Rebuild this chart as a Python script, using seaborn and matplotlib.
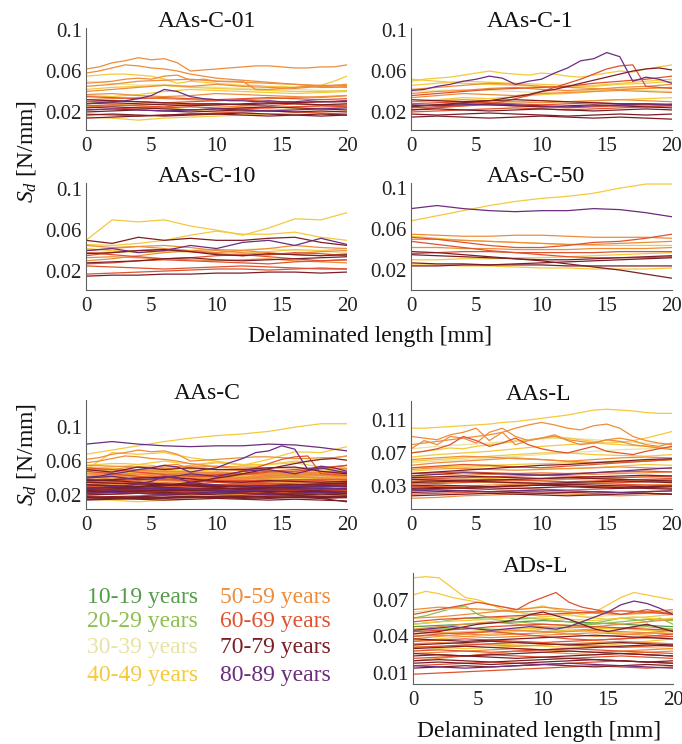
import numpy as np
import pandas as pd
import matplotlib
matplotlib.use("Agg")
import matplotlib.pyplot as plt
import seaborn as sns

sns.set_style("white")
plt.rcParams["font.family"] = ["Liberation Serif", "DejaVu Serif"]
plt.rcParams["mathtext.fontset"] = "custom"
plt.rcParams["mathtext.rm"] = "Liberation Serif"
plt.rcParams["mathtext.it"] = "Liberation Serif:italic"

# ---------------- data (values in 1e-3 N/mm) ----------------
age_groups = ["10-19 years", "20-29 years", "30-39 years", "40-49 years",
              "50-59 years", "60-69 years", "70-79 years", "80-89 years"]
group_colors = ["#559c48", "#8dbf4c", "#e8e3a2", "#f4c93c",
                "#ed8d3b", "#e0522f", "#7c1e26", "#6b2d7d"]
G = dict(zip(["g10", "g20", "g30", "g40", "g50", "g60", "g70", "g80"], age_groups))

x_fine = [float(v) for v in range(0, 21)]          # 1 mm step
x_coarse = [float(v) for v in range(0, 21, 2)]     # 2 mm step

yticks_c = [0.02, 0.06, 0.1]
yticks_l = [0.03, 0.07, 0.11]
yticks_d = [0.01, 0.04, 0.07]
xticks = [0, 5, 10, 15, 20]

c01_fine = [
    ("g50", [62, 64, 68, 70, 73, 71, 72, 68, 60, 61, 62, 63, 64, 65, 65, 64, 63, 63, 64, 64, 66]),
    ("g50", [58, 60, 63, 66, 65, 63, 62, 60, 57, 55, 53, 52, 51, 50, 49, 48, 47, 46, 45, 46, 47]),
    ("g50", [48, 49, 50, 52, 53, 52, 55, 56, 51, 52, 50, 50, 50, 42, 42, 43, 44, 45, 44, 44, 45]),
    ("g80", [28, 29, 30, 31, 33, 36, 42, 40, 35, 33, 32, 31, 31, 30, 31, 30, 30, 31, 30, 30, 31]),
    ("g40", [55, 56, 57, 57, 56, 55, 52, 48, 50, 49, 48, 47, 46, 46, 45, 45, 44, 45, 46, 50, 55]),
]
c01_coarse = [
    ("g50", [45, 47, 50, 51, 52, 50, 49, 48, 47, 46, 46]),
    ("g50", [40, 42, 44, 46, 45, 47, 45, 44, 43, 45, 44]),
    ("g40", [42, 44, 45, 46, 44, 43, 42, 41, 40, 40, 41]),
    ("g40", [36, 35, 37, 40, 42, 41, 40, 39, 38, 39, 40]),
    ("g40", [30, 28, 26, 24, 22, 20, 21, 22, 23, 24, 25]),
    ("g30", [50, 48, 46, 47, 45, 44, 43, 42, 42, 41, 40]),
    ("g50", [37, 38, 36, 35, 36, 38, 37, 36, 35, 34, 36]),
    ("g60", [35, 34, 33, 34, 33, 32, 33, 34, 33, 32, 33]),
    ("g60", [30, 31, 30, 29, 30, 31, 32, 30, 29, 30, 31]),
    ("g60", [26, 27, 26, 25, 27, 28, 27, 26, 28, 27, 26]),
    ("g60", [22, 23, 24, 24, 25, 24, 23, 24, 25, 26, 25]),
    ("g70", [28, 29, 28, 27, 26, 27, 28, 29, 28, 27, 28]),
    ("g70", [24, 25, 24, 23, 22, 23, 24, 25, 24, 23, 22]),
    ("g70", [20, 21, 22, 21, 20, 21, 22, 21, 20, 21, 20]),
    ("g70", [17, 18, 17, 16, 17, 18, 19, 18, 17, 16, 17]),
    ("g70", [14, 15, 16, 17, 18, 18, 17, 16, 17, 18, 17]),
    ("g60", [18, 17, 16, 17, 18, 19, 20, 21, 20, 19, 18]),
    ("g50", [25, 26, 27, 28, 27, 26, 25, 24, 25, 26, 27]),
    ("g40", [15, 14, 12, 14, 15, 16, 17, 18, 19, 20, 21]),
    ("g80", [22, 23, 22, 21, 22, 23, 22, 21, 22, 23, 24]),
    ("g50", [32, 33, 34, 33, 32, 31, 32, 33, 34, 35, 36]),
    ("g70", [32, 31, 30, 29, 28, 28, 27, 28, 29, 30, 30]),
]

c1_fine = [
    ("g80", [41, 42, 45, 47, 50, 52, 55, 53, 47, 50, 52, 58, 63, 70, 72, 78, 74, 50, 54, 52, 48]),
    ("g60", [22, 23, 24, 25, 26, 27, 28, 30, 33, 36, 40, 44, 48, 52, 57, 62, 65, 66, 45, 44, 43]),
    ("g70", [25, 26, 27, 28, 29, 30, 31, 33, 35, 37, 40, 42, 45, 48, 51, 54, 57, 60, 62, 63, 61]),
    ("g40", [50, 52, 53, 54, 56, 58, 60, 58, 57, 56, 58, 57, 55, 54, 56, 58, 60, 59, 62, 64, 66]),
]
c1_coarse = [
    ("g40", [52, 50, 48, 47, 46, 45, 44, 46, 48, 50, 52]),
    ("g40", [46, 48, 50, 49, 48, 47, 46, 45, 47, 48, 50]),
    ("g50", [42, 44, 46, 48, 47, 45, 44, 43, 42, 43, 44]),
    ("g50", [38, 40, 41, 43, 44, 42, 41, 42, 44, 45, 47]),
    ("g50", [34, 36, 38, 37, 36, 38, 39, 40, 41, 40, 39]),
    ("g60", [36, 38, 40, 42, 43, 44, 45, 48, 50, 52, 55]),
    ("g40", [30, 32, 34, 33, 35, 37, 38, 40, 42, 43, 44]),
    ("g30", [40, 41, 42, 41, 40, 39, 40, 41, 42, 41, 40]),
    ("g60", [28, 29, 30, 29, 28, 27, 28, 29, 28, 27, 26]),
    ("g60", [24, 25, 26, 27, 26, 25, 24, 25, 26, 27, 28]),
    ("g70", [26, 27, 28, 27, 26, 25, 26, 27, 26, 25, 24]),
    ("g70", [22, 23, 22, 21, 22, 23, 22, 21, 22, 23, 22]),
    ("g70", [18, 17, 18, 19, 18, 17, 16, 17, 18, 17, 18]),
    ("g70", [15, 16, 15, 14, 15, 16, 15, 14, 15, 14, 13]),
    ("g50", [30, 31, 32, 31, 30, 29, 30, 31, 32, 31, 30]),
    ("g60", [20, 21, 22, 23, 24, 23, 22, 23, 24, 25, 26]),
    ("g80", [27, 26, 27, 28, 27, 26, 25, 26, 27, 28, 27]),
    ("g70", [32, 31, 30, 31, 32, 31, 30, 29, 28, 28, 27]),
    ("g40", [26, 27, 28, 29, 30, 31, 30, 31, 32, 33, 34]),
]

c10_coarse = [
    ("g40", [50, 70, 68, 70, 64, 60, 55, 62, 71, 70, 77]),
    ("g40", [46, 45, 47, 50, 55, 59, 56, 56, 58, 53, 50]),
    ("g70", [50, 47, 53, 50, 52, 50, 50, 52, 53, 48, 45]),
    ("g80", [40, 42, 38, 40, 45, 42, 48, 50, 45, 52, 46]),
    ("g50", [45, 43, 44, 42, 40, 38, 40, 42, 45, 43, 42]),
    ("g50", [40, 42, 44, 45, 43, 40, 38, 36, 37, 39, 40]),
    ("g60", [38, 36, 34, 32, 33, 35, 36, 34, 32, 30, 31]),
    ("g60", [35, 38, 40, 41, 39, 37, 35, 36, 38, 37, 35]),
    ("g70", [37, 38, 40, 41, 39, 36, 35, 37, 36, 35, 36]),
    ("g50", [30, 32, 35, 38, 40, 41, 40, 38, 36, 35, 37]),
    ("g60", [27, 28, 30, 31, 30, 29, 28, 27, 29, 30, 31]),
    ("g70", [28, 29, 30, 32, 33, 31, 30, 31, 32, 33, 34]),
    ("g60", [25, 24, 23, 22, 23, 24, 25, 24, 23, 22, 22]),
    ("g50", [33, 34, 33, 32, 31, 30, 31, 32, 30, 29, 28]),
    ("g70", [15, 16, 16, 17, 17, 18, 18, 19, 19, 18, 19]),
    ("g60", [17, 18, 19, 20, 21, 22, 22, 21, 22, 23, 22]),
    ("g40", [42, 40, 38, 39, 40, 38, 37, 39, 41, 40, 42]),
    ("g30", [38, 39, 40, 39, 38, 40, 41, 42, 40, 39, 38]),
]

c50_coarse = [
    ("g40", [68, 73, 78, 83, 87, 90, 92, 95, 100, 104, 104]),
    ("g80", [80, 83, 80, 78, 77, 78, 78, 80, 79, 76, 72]),
    ("g50", [55, 54, 53, 53, 54, 54, 53, 52, 52, 52, 51]),
    ("g60", [52, 50, 47, 44, 42, 42, 44, 47, 48, 51, 55]),
    ("g50", [50, 50, 49, 48, 47, 46, 45, 45, 46, 47, 48]),
    ("g40", [53, 51, 49, 48, 47, 46, 45, 44, 44, 44, 44]),
    ("g70", [38, 37, 35, 33, 31, 29, 26, 23, 20, 16, 12]),
    ("g60", [48, 45, 42, 39, 37, 35, 33, 32, 32, 32, 33]),
    ("g70", [35, 34, 33, 32, 31, 30, 30, 31, 32, 33, 34]),
    ("g70", [27, 26, 26, 25, 25, 25, 24, 24, 24, 24, 24]),
    ("g40", [30, 30, 31, 31, 32, 32, 33, 34, 35, 36, 37]),
    ("g40", [25, 25, 24, 24, 23, 22, 22, 21, 21, 21, 22]),
    ("g60", [36, 37, 38, 38, 37, 37, 37, 37, 38, 38, 38]),
    ("g70", [24, 24, 25, 25, 26, 27, 28, 29, 30, 31, 32]),
    ("g50", [42, 42, 41, 41, 40, 40, 40, 41, 41, 41, 42]),
]

aasl_fine = [
    ("g40", [100, 100, 101, 102, 103, 104, 105, 107, 108, 110, 112, 114, 116, 119, 122, 123, 122, 121, 119, 118, 118]),
    ("g50", [80, 82, 84, 86, 88, 90, 92, 95, 100, 104, 107, 104, 100, 98, 103, 105, 100, 90, 85, 82, 80]),
    ("g50", [75, 85, 80, 90, 88, 82, 95, 100, 90, 85, 88, 92, 85, 80, 82, 86, 84, 80, 78, 76, 74]),
    ("g50", [90, 88, 86, 92, 95, 100, 85, 95, 80, 85, 88, 90, 86, 84, 82, 86, 88, 85, 80, 78, 82]),
    ("g60", [70, 72, 75, 80, 90, 85, 78, 82, 88, 80, 75, 72, 70, 74, 78, 72, 70, 68, 72, 75, 78]),
    ("g40", [70, 72, 74, 76, 75, 78, 80, 82, 84, 86, 88, 90, 88, 86, 84, 82, 83, 85, 88, 92, 96]),
]
aasl_coarse = [
    ("g30", [75, 78, 80, 82, 85, 87, 88, 86, 84, 82, 80]),
    ("g40", [65, 68, 70, 72, 75, 78, 80, 82, 80, 78, 76]),
    ("g40", [60, 62, 64, 66, 68, 70, 70, 68, 67, 66, 68]),
    ("g50", [62, 64, 66, 65, 63, 62, 60, 62, 64, 65, 64]),
    ("g50", [55, 58, 60, 62, 64, 62, 60, 58, 59, 60, 62]),
    ("g60", [52, 54, 56, 55, 53, 52, 54, 56, 58, 60, 62]),
    ("g70", [45, 47, 49, 51, 53, 55, 56, 58, 60, 62, 63]),
    ("g50", [50, 52, 51, 50, 49, 50, 51, 52, 53, 52, 51]),
    ("g40", [48, 50, 52, 54, 53, 52, 51, 52, 54, 56, 55]),
    ("g60", [45, 46, 47, 46, 45, 44, 45, 46, 47, 48, 47]),
    ("g80", [42, 44, 46, 45, 44, 43, 44, 46, 48, 50, 52]),
    ("g70", [40, 41, 42, 41, 40, 39, 40, 41, 42, 43, 42]),
    ("g60", [38, 39, 40, 41, 42, 43, 42, 41, 40, 41, 42]),
    ("g50", [36, 37, 38, 37, 36, 37, 38, 39, 38, 37, 38]),
    ("g40", [42, 41, 40, 39, 38, 37, 38, 39, 40, 41, 40]),
    ("g70", [34, 35, 36, 35, 34, 33, 34, 35, 36, 35, 34]),
    ("g60", [32, 33, 34, 35, 34, 33, 32, 33, 34, 35, 36]),
    ("g70", [30, 31, 30, 29, 30, 31, 32, 31, 30, 29, 30]),
    ("g50", [28, 29, 30, 31, 32, 31, 30, 29, 30, 31, 32]),
    ("g70", [27, 28, 27, 26, 27, 28, 29, 28, 27, 28, 29]),
    ("g60", [25, 26, 27, 28, 27, 26, 25, 26, 27, 28, 27]),
    ("g80", [24, 25, 24, 23, 24, 25, 24, 23, 22, 23, 24]),
    ("g70", [22, 23, 24, 23, 22, 21, 22, 23, 22, 21, 20]),
    ("g60", [20, 21, 22, 23, 24, 23, 22, 21, 22, 23, 24]),
    ("g70", [18, 19, 20, 21, 20, 19, 18, 19, 20, 21, 20]),
    ("g50", [15, 16, 18, 19, 20, 21, 20, 19, 18, 19, 20]),
    ("g40", [33, 34, 35, 34, 33, 32, 33, 34, 35, 36, 37]),
    ("g30", [58, 60, 62, 64, 66, 68, 70, 72, 74, 75, 76]),
    ("g70", [38, 37, 36, 37, 38, 39, 40, 39, 38, 37, 36]),
    ("g60", [35, 36, 37, 38, 37, 36, 35, 36, 37, 38, 39]),
    ("g50", [45, 44, 43, 44, 45, 46, 45, 44, 45, 46, 47]),
    ("g40", [52, 53, 54, 55, 56, 57, 58, 59, 60, 61, 62]),
    ("g70", [26, 27, 28, 29, 30, 31, 30, 29, 28, 27, 26]),
    ("g60", [30, 29, 28, 29, 30, 31, 32, 33, 32, 31, 30]),
]

adsl_fine = [
    ("g40", [88, 89, 88, 80, 72, 70, 66, 62, 60, 58, 56, 57, 58, 56, 55, 54, 55, 56, 55, 54, 55]),
    ("g40", [74, 77, 75, 72, 70, 68, 66, 64, 62, 63, 65, 62, 60, 58, 60, 66, 72, 76, 74, 72, 70]),
    ("g60", [58, 60, 62, 64, 66, 68, 66, 64, 62, 68, 72, 76, 68, 64, 62, 60, 58, 60, 62, 60, 58]),
    ("g80", [45, 46, 47, 48, 47, 46, 45, 46, 47, 48, 47, 46, 48, 52, 56, 60, 66, 69, 67, 63, 58]),
    ("g20", [55, 57, 60, 63, 65, 58, 55, 56, 54, 55, 54, 53, 52, 50, 51, 53, 55, 54, 52, 55, 50]),
    ("g70", [42, 43, 44, 46, 48, 50, 51, 52, 54, 58, 60, 57, 54, 50, 46, 44, 46, 48, 50, 47, 44]),
]
adsl_coarse = [
    ("g20", [50, 52, 55, 54, 52, 50, 49, 50, 52, 54, 53]),
    ("g10", [48, 49, 50, 51, 52, 53, 52, 51, 50, 49, 48]),
    ("g30", [60, 62, 63, 61, 60, 58, 57, 56, 58, 60, 62]),
    ("g50", [62, 64, 63, 62, 60, 61, 60, 59, 58, 60, 62]),
    ("g50", [55, 56, 58, 60, 62, 64, 62, 60, 58, 59, 60]),
    ("g60", [52, 54, 55, 56, 57, 58, 59, 60, 61, 60, 58]),
    ("g40", [50, 52, 53, 54, 56, 55, 54, 53, 55, 56, 58]),
    ("g50", [46, 48, 50, 52, 50, 48, 47, 48, 50, 52, 54]),
    ("g60", [44, 45, 46, 48, 49, 50, 49, 48, 47, 46, 45]),
    ("g40", [42, 43, 44, 45, 46, 47, 48, 47, 46, 45, 44]),
    ("g50", [40, 41, 40, 39, 40, 41, 42, 43, 42, 41, 40]),
    ("g70", [38, 37, 36, 37, 38, 39, 40, 41, 40, 39, 38]),
    ("g60", [36, 37, 38, 37, 36, 35, 36, 37, 38, 39, 40]),
    ("g50", [34, 35, 34, 33, 32, 33, 34, 35, 36, 35, 34]),
    ("g40", [32, 31, 30, 31, 32, 33, 34, 33, 32, 31, 30]),
    ("g70", [30, 31, 32, 31, 30, 29, 30, 31, 32, 33, 32]),
    ("g60", [28, 29, 28, 27, 28, 29, 30, 29, 28, 27, 26]),
    ("g50", [26, 27, 28, 29, 30, 29, 28, 27, 28, 29, 30]),
    ("g70", [24, 25, 24, 23, 22, 23, 24, 25, 26, 25, 24]),
    ("g60", [22, 23, 24, 25, 24, 23, 22, 23, 24, 23, 22]),
    ("g70", [20, 21, 20, 19, 20, 21, 22, 21, 20, 19, 20]),
    ("g70", [18, 19, 18, 17, 18, 19, 20, 21, 20, 19, 18]),
    ("g60", [16, 17, 18, 19, 18, 17, 18, 19, 20, 19, 18]),
    ("g70", [14, 15, 16, 15, 16, 17, 16, 15, 16, 17, 16]),
    ("g80", [16, 15, 14, 15, 16, 17, 18, 17, 16, 15, 14]),
    ("g60", [9, 10, 11, 12, 13, 14, 15, 16, 15, 14, 15]),
    ("g50", [38, 40, 42, 44, 45, 44, 42, 40, 41, 43, 45]),
    ("g40", [28, 30, 32, 34, 33, 32, 31, 32, 34, 36, 38]),
    ("g50", [20, 22, 24, 26, 28, 27, 26, 25, 26, 27, 28]),
    ("g70", [33, 34, 35, 36, 35, 34, 33, 34, 35, 34, 33]),
    ("g60", [40, 42, 43, 44, 42, 40, 38, 37, 38, 40, 42]),
    ("g50", [44, 43, 42, 41, 42, 43, 44, 45, 44, 43, 42]),
    ("g40", [36, 38, 40, 42, 44, 46, 45, 44, 43, 42, 44]),
    ("g70", [26, 25, 24, 25, 26, 27, 28, 27, 26, 25, 24]),
    ("g60", [31, 32, 33, 34, 35, 34, 33, 32, 31, 32, 33]),
    ("g20", [45, 46, 47, 46, 45, 44, 45, 46, 47, 48, 46]),
]


def to_frame(fine, coarse, tag):
    rows = []
    for i, (g, vals) in enumerate(fine):
        for xv, yv in zip(x_fine, vals):
            rows.append((f"{tag}f{i}", G[g], xv, yv / 1000.0))
    for i, (g, vals) in enumerate(coarse):
        for xv, yv in zip(x_coarse, vals):
            rows.append((f"{tag}c{i}", G[g], xv, yv / 1000.0))
    return pd.DataFrame(rows, columns=["curve", "group", "x", "y"])


df_c01 = to_frame(c01_fine, c01_coarse, "c01")
df_c1 = to_frame(c1_fine, c1_coarse, "c1")
df_c10 = to_frame([], c10_coarse, "c10")
df_c50 = to_frame([], c50_coarse, "c50")
df_c = pd.concat([df_c01, df_c1, df_c10, df_c50], ignore_index=True)
df_l = to_frame(aasl_fine, aasl_coarse, "l")
df_d = to_frame(adsl_fine, adsl_coarse, "d")

palette = dict(zip(age_groups, group_colors))

# ---------------- layout ----------------
W, H = 682, 744
fig = plt.figure(figsize=(W / 100, H / 100), dpi=100)


def rect(l, r, t, b):
    return [l / W, 1 - b / H, (r - l) / W, (b - t) / H]


panels = [
    ("AAs-C-01", df_c01, rect(86, 347, 28, 130), (0.0024, 0.102), yticks_c, 0.464),
    ("AAs-C-1", df_c1, rect(411, 672, 28, 130), (0.0024, 0.102), yticks_c, 0.456),
    ("AAs-C-10", df_c10, rect(86, 347, 183, 290), (0.0015, 0.106), yticks_c, 0.464),
    ("AAs-C-50", df_c50, rect(411, 672, 183, 290), (0.0005, 0.105), yticks_c, 0.48),
    ("AAs-C", df_c, rect(86, 347, 400, 509), (0.0035, 0.132), yticks_c, 0.464),
    ("AAs-L", df_l, rect(411, 672, 401, 509), (0.002, 0.133), yticks_l, 0.49),
    ("ADs-L", df_d, rect(413, 673, 573, 684), (0.001, 0.092), yticks_d, 0.47),
]

for title, df, r, ylim, yt, tx in panels:
    ax = fig.add_axes(r)
    sns.lineplot(data=df, x="x", y="y", hue="group", units="curve",
                 estimator=None, palette=palette, hue_order=age_groups,
                 legend=False, lw=0.9, sort=False, ax=ax)
    ax.set_xlim(0, 20)
    ax.set_ylim(*ylim)
    ax.set_xticks(xticks)
    ax.set_xticklabels([str(v) for v in xticks])
    ax.set_yticks(yt)
    ax.set_yticklabels([f"{v:g}" for v in yt])
    ax.set_xlabel("")
    ax.set_ylabel("")
    for s in ["top", "right"]:
        ax.spines[s].set_visible(False)
    for s in ["left", "bottom"]:
        ax.spines[s].set_color("#606060")
        ax.spines[s].set_linewidth(0.8)
    ax.tick_params(axis="both", direction="in", length=3, width=0.8,
                   color="#606060", labelsize=15, labelcolor="#222222")
    ax.tick_params(axis="x", pad=5)
    ax.tick_params(axis="y", pad=3)
    ax.text(tx, 1.01, title, transform=ax.transAxes, ha="center",
            va="baseline", fontsize=17, color="#111111")

# axis labels
fig.text(370 / W, 1 - 337 / H, "Delaminated length [mm]", ha="center",
         va="center", fontsize=17, color="#111111")
fig.text(539 / W, 1 - 732 / H, "Delaminated length [mm]", ha="center",
         va="center", fontsize=17, color="#111111")
fig.text(27 / W, 1 - 152 / H, r"$S_d$ [N/mm]", ha="center", va="center",
         rotation=90, fontsize=17, color="#111111")
fig.text(27 / W, 1 - 455 / H, r"$S_d$ [N/mm]", ha="center", va="center",
         rotation=90, fontsize=17, color="#111111")

# colour-coded age legend as text
leg_x = [87, 220]
leg_y = [597, 622, 648, 675]
for i, (lab, col) in enumerate(zip(age_groups, group_colors)):
    fig.text(leg_x[i // 4] / W, 1 - leg_y[i % 4] / H, lab, ha="left",
             va="center", fontsize=17, color=col)

fig.savefig("out.png", dpi=100)
